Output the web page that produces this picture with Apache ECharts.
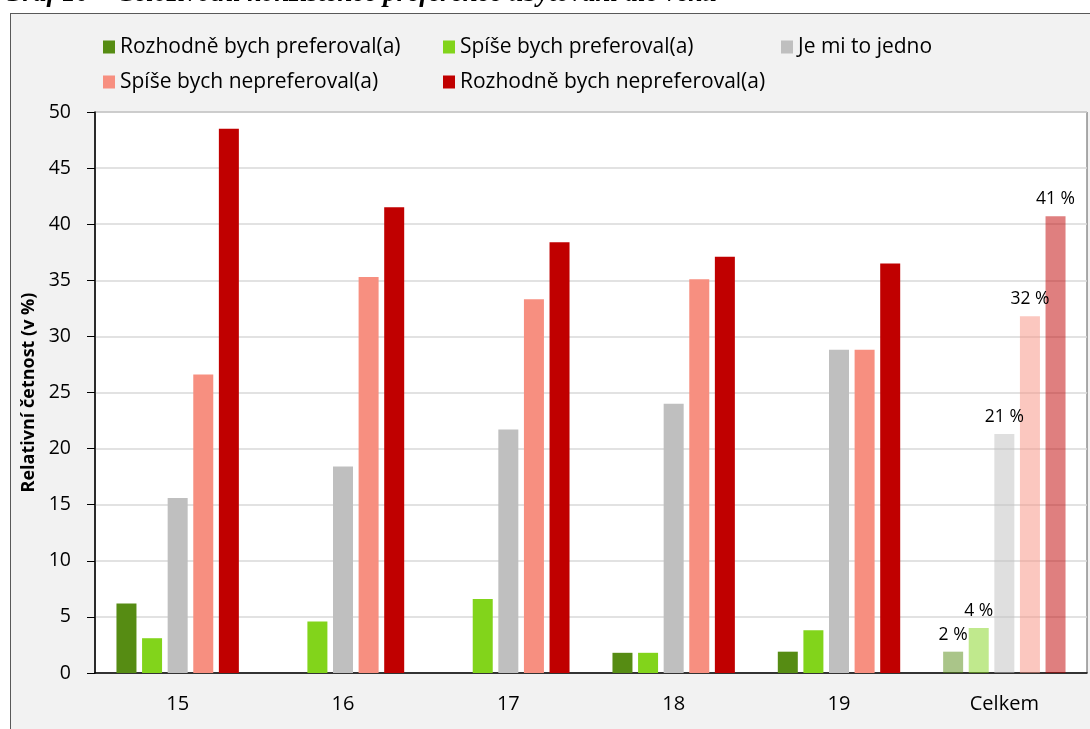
<!DOCTYPE html>
<html>
<head>
<meta charset="utf-8">
<script src="https://cdn.jsdelivr.net/npm/echarts@6/dist/echarts.min.js"></script>
<style>
  html, body { margin: 0; padding: 0; background: #fff; overflow: hidden; }
  #frame { position: absolute; left: 10px; top: 13px; width: 1100px; height: 730px; background: #f2f2f2; border: 1px solid #595959; }
  #chart { position: absolute; left: 0; top: 0; width: 1090px; height: 729px; }
</style>
</head>
<body>
<div id="frame"></div>
<div id="chart"></div>
<script>
// kategorie (věk) a odpovědi v %
const categories = ['15', '16', '17', '18', '19', 'Celkem'];
const seriesNames = [
  'Rozhodně bych preferoval(a)',
  'Spíše bych preferoval(a)',
  'Je mi to jedno',
  'Spíše bych nepreferoval(a)',
  'Rozhodně bych nepreferoval(a)'
];
const rozhodnePref = [6.2, 0, 0, 1.8, 1.9, 1.9];
const spisePref = [3.1, 4.6, 6.6, 1.8, 3.8, 4.0];
const jedno = [15.6, 18.4, 21.7, 24.0, 28.8, 21.3];
const spiseNepref = [26.6, 35.3, 33.3, 35.1, 28.8, 31.8];
const rozhodneNepref = [48.5, 41.5, 38.4, 37.1, 36.5, 40.7];
const colors = ['#568c13', '#82d41b', '#bfbfbf', '#f78f80', '#c00000'];
const yTicks = { min: 0, max: 50, interval: 5 };

const values = [rozhodnePref, spisePref, jedno, spiseNepref, rozhodneNepref];
const totalIdx = categories.length - 1;

const chart = echarts.init(document.getElementById('chart'));

const series = values.map((arr, i) => ({
  name: seriesNames[i],
  type: 'bar',
  barWidth: 20,
  barGap: '28%',
  itemStyle: { color: colors[i] },
  data: arr.map((v, j) => {
    if (j !== totalIdx) return v === 0 ? null : v;
    // celkem: poloprůhledné sloupce s popiskem
    return {
      value: v,
      itemStyle: { color: echarts.color.modifyAlpha(colors[i], 0.5) },
      label: {
        show: true,
        position: 'top',
        distance: 8,
        formatter: p => Math.round(p.value) + ' %',
        color: '#000',
        fontSize: 17.5,
        fontFamily: 'Open Sans'
      }
    };
  })
}));

const legendText = { color: '#000', fontSize: 21, lineHeight: 22, fontFamily: 'Open Sans' };
const legendCommon = {
  orient: 'vertical',
  top: 31,
  itemWidth: 12,
  itemHeight: 13,
  itemGap: 13,
  icon: 'rect',
  textStyle: legendText,
  selectedMode: false
};

chart.setOption({
  animation: false,
  title: {
    text: 'Graf 10 – Celoživotní konzistence preference ubytování dle věku',
    left: -2,
    top: -24,
    textStyle: { fontFamily: 'Liberation Serif', fontStyle: 'italic', fontWeight: 'bold', fontSize: 27, color: '#000' }
  },
  legend: [
    Object.assign({}, legendCommon, { left: 98, data: [seriesNames[0], seriesNames[3]] }),
    Object.assign({}, legendCommon, { left: 438, data: [seriesNames[1], seriesNames[4]] }),
    Object.assign({}, legendCommon, { left: 776, data: [seriesNames[2]] })
  ],
  grid: {
    left: 95,
    right: 3,
    top: 112,
    bottom: 56,
    show: true,
    backgroundColor: '#fff',
    borderColor: '#595959',
    borderWidth: 1
  },
  xAxis: {
    type: 'category',
    data: categories,
    axisLine: { lineStyle: { color: '#000', width: 1.5 } },
    axisTick: { alignWithLabel: true, length: 6, lineStyle: { color: '#000' } },
    axisLabel: { color: '#000', fontSize: 20, fontFamily: 'Open Sans', margin: 21 }
  },
  yAxis: {
    type: 'value',
    min: yTicks.min,
    max: yTicks.max,
    interval: yTicks.interval,
    name: 'Relativní četnost (v %)',
    nameLocation: 'middle',
    nameGap: 56,
    nameTextStyle: { fontSize: 18, fontWeight: 'bold', fontFamily: 'Open Sans', color: '#000' },
    axisLine: { show: true, lineStyle: { color: '#000', width: 1.5 } },
    axisTick: { show: true, length: 8, lineStyle: { color: '#000' } },
    axisLabel: { color: '#000', fontSize: 19.5, fontFamily: 'Open Sans', margin: 24 },
    splitLine: { lineStyle: { color: '#d9d9d9', width: 1.5 } }
  },
  series: series
});
</script>
</body>
</html>
